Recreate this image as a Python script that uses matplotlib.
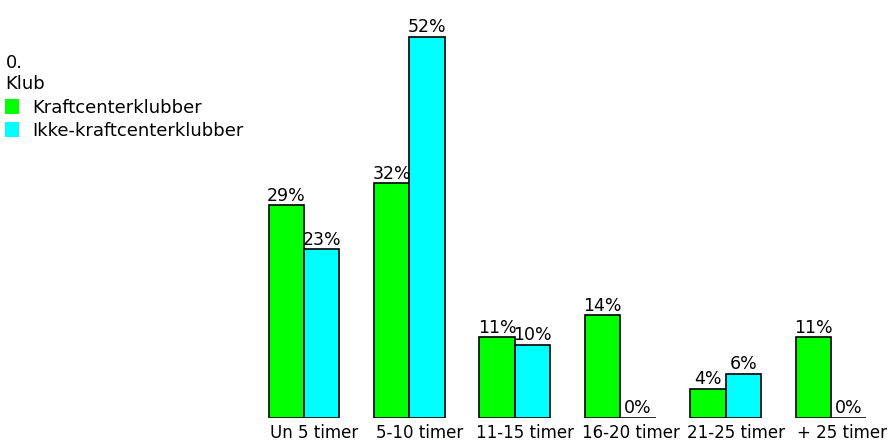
import numpy as np
import matplotlib.pyplot as plt
from matplotlib.patches import Patch

categories = ["Un 5 timer", "5-10 timer", "11-15 timer", "16-20 timer", "21-25 timer", "+ 25 timer"]
kraft = [29, 32, 11, 14, 4, 11]
ikke = [23, 52, 10, 0, 6, 0]
series_names = ["Kraftcenterklubber", "Ikke-kraftcenterklubber"]

plt.rcParams['font.family'] = ['DejaVu Sans']
fs = 12.5

fig = plt.figure(figsize=(8.92, 4.45), dpi=100)
ax = fig.add_axes([0.2817, 0.0607, 0.709, 0.906])

x = np.arange(len(categories))
w = 0.335
b1 = ax.bar(x - w / 2, kraft, w, color="#00ff00", edgecolor="black", linewidth=1.2)
b2 = ax.bar(x + w / 2, ikke, w, color="#00ffff", edgecolor="black", linewidth=1.2)

for bars, vals in ((b1, kraft), (b2, ikke)):
    for r, v in zip(bars, vals):
        ax.annotate(f"{v}%", (r.get_x() + r.get_width() / 2, v), xytext=(0, 0.5),
                    textcoords="offset points", ha="center", va="bottom", fontsize=fs)

ax.set_xlim(-0.5, 5.5)
ax.set_ylim(0, 55)
ax.set_xticks(x + 0.1)
ax.set_xticklabels(categories, fontsize=12)
ax.tick_params(axis="x", length=0, pad=4)
ax.set_yticks([])
for s in ax.spines.values():
    s.set_visible(False)

handles = [Patch(facecolor="#00ff00"), Patch(facecolor="#00ffff")]
leg = fig.legend(handles, series_names, title="0.\nKlub", loc="upper left",
                 bbox_to_anchor=(0.0, 0.89), frameon=False, fontsize=13,
                 title_fontsize=13, alignment="left", handlelength=0.75,
                 handleheight=0.9, handletextpad=0.75, labelspacing=0.3,
                 borderaxespad=0, borderpad=0.3)

fig.savefig("out.png", dpi=100)
